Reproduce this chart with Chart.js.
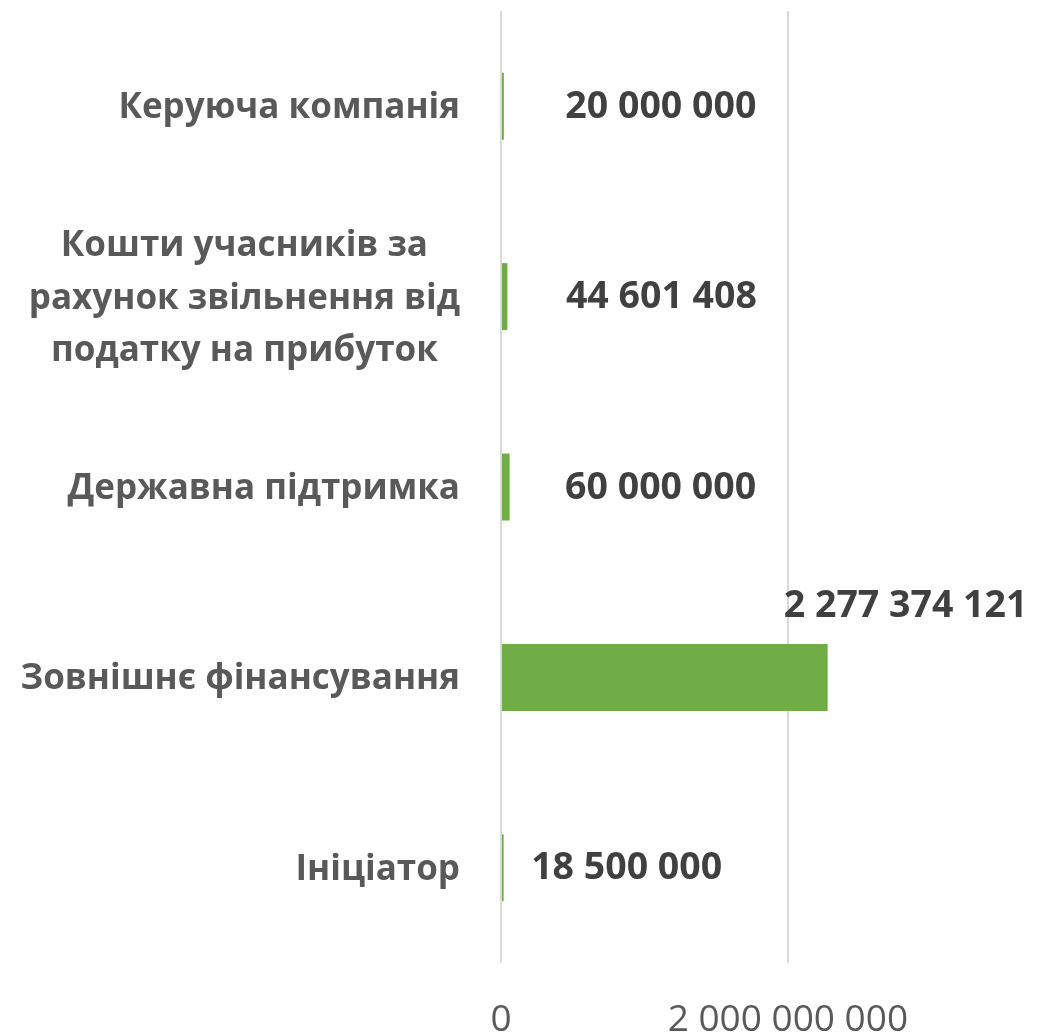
<!DOCTYPE html>
<html>
<head>
<meta charset="utf-8">
<script src="https://cdn.jsdelivr.net/npm/chart.js@4.4.1/dist/chart.umd.min.js"></script>
<style>
  html, body { margin: 0; padding: 0; background: #ffffff; }
  #wrap { width: 1046px; height: 1034px; position: relative; }
</style>
</head>
<body>
<div id="wrap"><canvas id="c"></canvas></div>
<script>
const categories = [
  ['Керуюча компанія'],
  ['Кошти учасників за', 'рахунок звільнення від', 'податку на прибуток'],
  ['Державна підтримка'],
  ['Зовнішнє фінансування'],
  ['Ініціатор']
];
const values = [20000000, 44601408, 60000000, 2277374121, 18500000];
const xTickValues = [0, 2000000000];
const xMax = 3800000000;

const FONT = "'Open Sans', 'DejaVu Sans', sans-serif";
function fmt(n) {
  return String(Math.round(n)).replace(/\B(?=(\d{3})+(?!\d))/g, ' ');
}

// label offsets relative to bar end (pixels) — mirrors manual placement in the reference
const labelOffsets = [
  { dx: 157, dy: 0 },
  { dx: 154, dy: 0 },
  { dx: 151, dy: 0 },
  { dx: 78, dy: -72 },
  { dx: 123, dy: 0 }
];

const dataLabelPlugin = {
  id: 'dataLabels',
  afterDatasetsDraw(chart) {
    const ctx = chart.ctx;
    const meta = chart.getDatasetMeta(0);
    ctx.save();
    ctx.font = "bold 37.5px " + FONT;
    ctx.fillStyle = '#404040';
    ctx.textAlign = 'center';
    ctx.textBaseline = 'middle';
    meta.data.forEach((bar, i) => {
      const o = labelOffsets[i];
      ctx.fillText(fmt(values[i]), bar.x + o.dx, bar.y + o.dy + 1);
    });
    ctx.restore();
  }
};

const catLabelPlugin = {
  id: 'catLabels',
  afterDraw(chart) {
    const ctx = chart.ctx;
    const y = chart.scales.y;
    const rightEdge = y.right - 41;
    const lh = 52.5;
    ctx.save();
    ctx.font = "bold 35px " + FONT;
    ctx.fillStyle = '#595959';
    ctx.textBaseline = 'middle';
    ctx.textAlign = 'center';
    categories.forEach((lines, i) => {
      const cy = y.getPixelForTick(i) + 2;
      const w = Math.max(...lines.map(l => ctx.measureText(l).width));
      const cx = rightEdge - w / 2;
      const y0 = cy - (lines.length - 1) * lh / 2;
      lines.forEach((l, k) => ctx.fillText(l, cx, y0 + k * lh));
    });
    ctx.restore();
  }
};

new Chart(document.getElementById('c'), {
  type: 'bar',
  data: {
    labels: categories,
    datasets: [{
      data: values,
      backgroundColor: '#70AD47',
      borderWidth: 0,
      categoryPercentage: 1,
      barPercentage: 0.352
    }]
  },
  options: {
    indexAxis: 'y',
    responsive: true,
    maintainAspectRatio: false,
    animation: false,
    layout: { padding: { top: 11, right: 0, bottom: 0, left: 0 } },
    plugins: { legend: { display: false }, tooltip: { enabled: false } },
    scales: {
      x: {
        min: 0,
        max: xMax,
        afterBuildTicks(scale) { scale.ticks = xTickValues.map(v => ({ value: v })); },
        afterFit(scale) { scale.height = 71; },
        grid: { color: '#D9D9D9', lineWidth: 2, drawTicks: false },
        border: { display: false },
        ticks: {
          padding: 35,
          color: '#595959',
          font: { family: FONT, size: 37 },
          callback: v => fmt(v),
          maxRotation: 0,
          autoSkip: false
        }
      },
      y: {
        afterFit(scale) { scale.width = 501; },
        grid: { display: false, drawTicks: false },
        border: { display: false },
        ticks: { display: false }
      }
    }
  },
  plugins: [dataLabelPlugin, catLabelPlugin]
});
</script>
</body>
</html>
